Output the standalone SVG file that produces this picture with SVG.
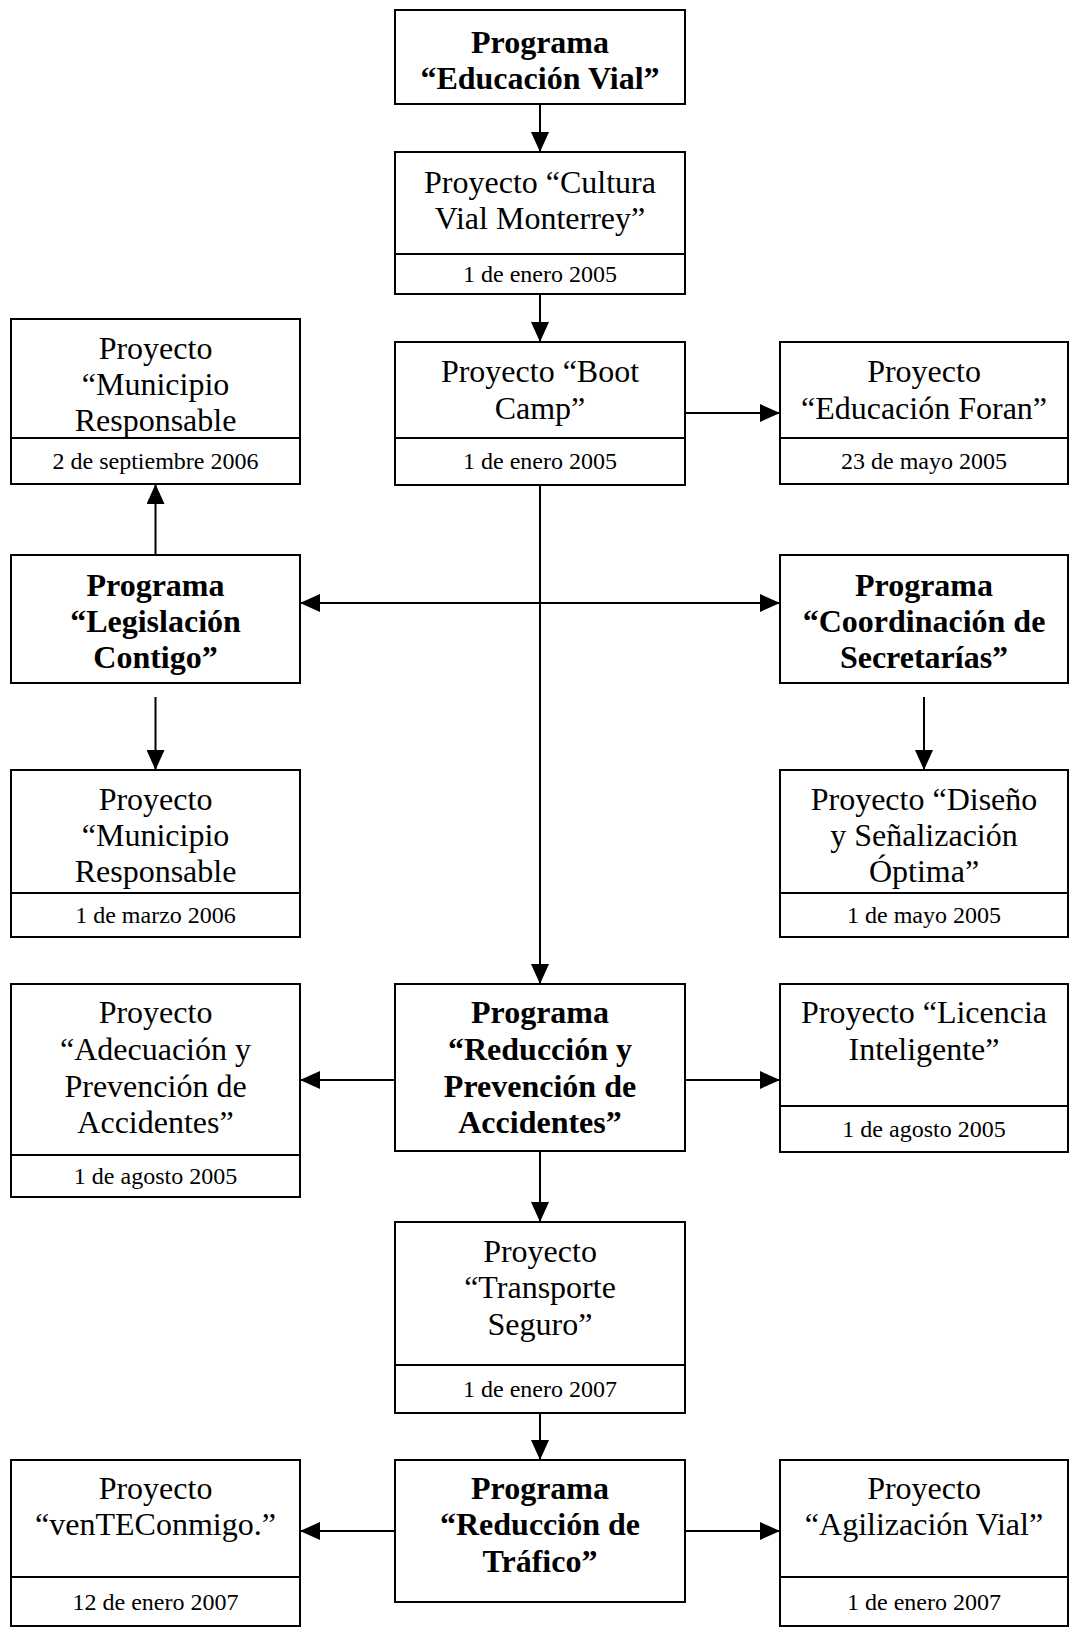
<svg xmlns="http://www.w3.org/2000/svg" width="1071" height="1628" viewBox="0 0 1071 1628">
<style>
rect{fill:#fff;stroke:#000;stroke-width:2}
.dv{stroke:#000;stroke-width:2}
text{font-family:"Liberation Serif","Times New Roman",serif;fill:#000;text-anchor:middle}
.t{font-size:32px}
.b{font-size:32px;font-weight:bold}
.d{font-size:24px}
.c line{stroke:#000;stroke-width:2}
</style>
<defs>
<marker id="ah" markerUnits="userSpaceOnUse" markerWidth="20" markerHeight="18" refX="20" refY="9" orient="auto-start-reverse">
<path d="M0,0 L20,9 L0,18 z" fill="#000"/>
</marker>
</defs>
<g class="c" id="connectors">
<line x1="540" y1="104" x2="540" y2="152" marker-end="url(#ah)"/>
<line x1="540" y1="294" x2="540" y2="342" marker-end="url(#ah)"/>
<line x1="685" y1="413" x2="780" y2="413" marker-end="url(#ah)"/>
<line x1="540" y1="485" x2="540" y2="984" marker-end="url(#ah)"/>
<line x1="300" y1="603" x2="780" y2="603" marker-start="url(#ah)" marker-end="url(#ah)"/>
<line x1="155.5" y1="555" x2="155.5" y2="484" marker-end="url(#ah)"/>
<line x1="155.5" y1="697" x2="155.5" y2="770" marker-end="url(#ah)"/>
<line x1="924" y1="697" x2="924" y2="770" marker-end="url(#ah)"/>
<line x1="395" y1="1080" x2="300" y2="1080" marker-end="url(#ah)"/>
<line x1="685" y1="1080" x2="780" y2="1080" marker-end="url(#ah)"/>
<line x1="540" y1="1151" x2="540" y2="1222" marker-end="url(#ah)"/>
<line x1="540" y1="1413" x2="540" y2="1460" marker-end="url(#ah)"/>
<line x1="395" y1="1531" x2="300" y2="1531" marker-end="url(#ah)"/>
<line x1="685" y1="1531" x2="780" y2="1531" marker-end="url(#ah)"/>
</g>
<g id="prog-educacion-vial">
<rect x="395" y="10" width="290" height="94"/>
<text class="b" x="540" y="53">Programa</text>
<text class="b" x="540" y="89">“Educación Vial”</text>
</g>
<g id="proy-cultura-vial">
<rect x="395" y="152" width="290" height="142"/>
<line class="dv" x1="395" y1="254" x2="685" y2="254"/>
<text class="t" x="540" y="193">Proyecto “Cultura</text>
<text class="t" x="540" y="229">Vial Monterrey”</text>
<text class="d" x="540" y="282">1 de enero 2005</text>
</g>
<g id="proy-municipio-1">
<rect x="11" y="319" width="289" height="165"/>
<line class="dv" x1="11" y1="438" x2="300" y2="438"/>
<text class="t" x="155.5" y="359">Proyecto</text>
<text class="t" x="155.5" y="395">“Municipio</text>
<text class="t" x="155.5" y="431">Responsable</text>
<text class="d" x="155.5" y="469">2 de septiembre 2006</text>
</g>
<g id="proy-boot-camp">
<rect x="395" y="342" width="290" height="143"/>
<line class="dv" x1="395" y1="438" x2="685" y2="438"/>
<text class="t" x="540" y="382">Proyecto “Boot</text>
<text class="t" x="540" y="419">Camp”</text>
<text class="d" x="540" y="469">1 de enero 2005</text>
</g>
<g id="proy-educacion-foran">
<rect x="780" y="342" width="288" height="142"/>
<line class="dv" x1="780" y1="438" x2="1068" y2="438"/>
<text class="t" x="924" y="382">Proyecto</text>
<text class="t" x="924" y="419">“Educación Foran”</text>
<text class="d" x="924" y="469">23 de mayo 2005</text>
</g>
<g id="prog-legislacion">
<rect x="11" y="555" width="289" height="128"/>
<text class="b" x="155.5" y="596">Programa</text>
<text class="b" x="155.5" y="632">“Legislación</text>
<text class="b" x="155.5" y="668">Contigo”</text>
</g>
<g id="prog-coordinacion">
<rect x="780" y="555" width="288" height="128"/>
<text class="b" x="924" y="596">Programa</text>
<text class="b" x="924" y="632">“Coordinación de</text>
<text class="b" x="924" y="668">Secretarías”</text>
</g>
<g id="proy-municipio-2">
<rect x="11" y="770" width="289" height="167"/>
<line class="dv" x1="11" y1="893" x2="300" y2="893"/>
<text class="t" x="155.5" y="810">Proyecto</text>
<text class="t" x="155.5" y="846">“Municipio</text>
<text class="t" x="155.5" y="882">Responsable</text>
<text class="d" x="155.5" y="923">1 de marzo 2006</text>
</g>
<g id="proy-diseno">
<rect x="780" y="770" width="288" height="167"/>
<line class="dv" x1="780" y1="893" x2="1068" y2="893"/>
<text class="t" x="924" y="810">Proyecto “Diseño</text>
<text class="t" x="924" y="846">y Señalización</text>
<text class="t" x="924" y="882">Óptima”</text>
<text class="d" x="924" y="923">1 de mayo 2005</text>
</g>
<g id="proy-adecuacion">
<rect x="11" y="984" width="289" height="213"/>
<line class="dv" x1="11" y1="1155" x2="300" y2="1155"/>
<text class="t" x="155.5" y="1023">Proyecto</text>
<text class="t" x="155.5" y="1060">“Adecuación y</text>
<text class="t" x="155.5" y="1097">Prevención de</text>
<text class="t" x="155.5" y="1133">Accidentes”</text>
<text class="d" x="155.5" y="1184">1 de agosto 2005</text>
</g>
<g id="prog-reduccion-prevencion">
<rect x="395" y="984" width="290" height="167"/>
<text class="b" x="540" y="1023">Programa</text>
<text class="b" x="540" y="1060">“Reducción y</text>
<text class="b" x="540" y="1097">Prevención de</text>
<text class="b" x="540" y="1133">Accidentes”</text>
</g>
<g id="proy-licencia">
<rect x="780" y="984" width="288" height="168"/>
<line class="dv" x1="780" y1="1106" x2="1068" y2="1106"/>
<text class="t" x="924" y="1023">Proyecto “Licencia</text>
<text class="t" x="924" y="1060">Inteligente”</text>
<text class="d" x="924" y="1137">1 de agosto 2005</text>
</g>
<g id="proy-transporte">
<rect x="395" y="1222" width="290" height="191"/>
<line class="dv" x1="395" y1="1365" x2="685" y2="1365"/>
<text class="t" x="540" y="1262">Proyecto</text>
<text class="t" x="540" y="1298">“Transporte</text>
<text class="t" x="540" y="1335">Seguro”</text>
<text class="d" x="540" y="1397">1 de enero 2007</text>
</g>
<g id="proy-ventec">
<rect x="11" y="1460" width="289" height="166"/>
<line class="dv" x1="11" y1="1577" x2="300" y2="1577"/>
<text class="t" x="155.5" y="1499">Proyecto</text>
<text class="t" x="155.5" y="1535">“venTEConmigo.”</text>
<text class="d" x="155.5" y="1610">12 de enero 2007</text>
</g>
<g id="prog-reduccion-trafico">
<rect x="395" y="1460" width="290" height="142"/>
<text class="b" x="540" y="1499">Programa</text>
<text class="b" x="540" y="1535">“Reducción de</text>
<text class="b" x="540" y="1572">Tráfico”</text>
</g>
<g id="proy-agilizacion">
<rect x="780" y="1460" width="288" height="166"/>
<line class="dv" x1="780" y1="1577" x2="1068" y2="1577"/>
<text class="t" x="924" y="1499">Proyecto</text>
<text class="t" x="924" y="1535">“Agilización Vial”</text>
<text class="d" x="924" y="1610">1 de enero 2007</text>
</g>
</svg>
